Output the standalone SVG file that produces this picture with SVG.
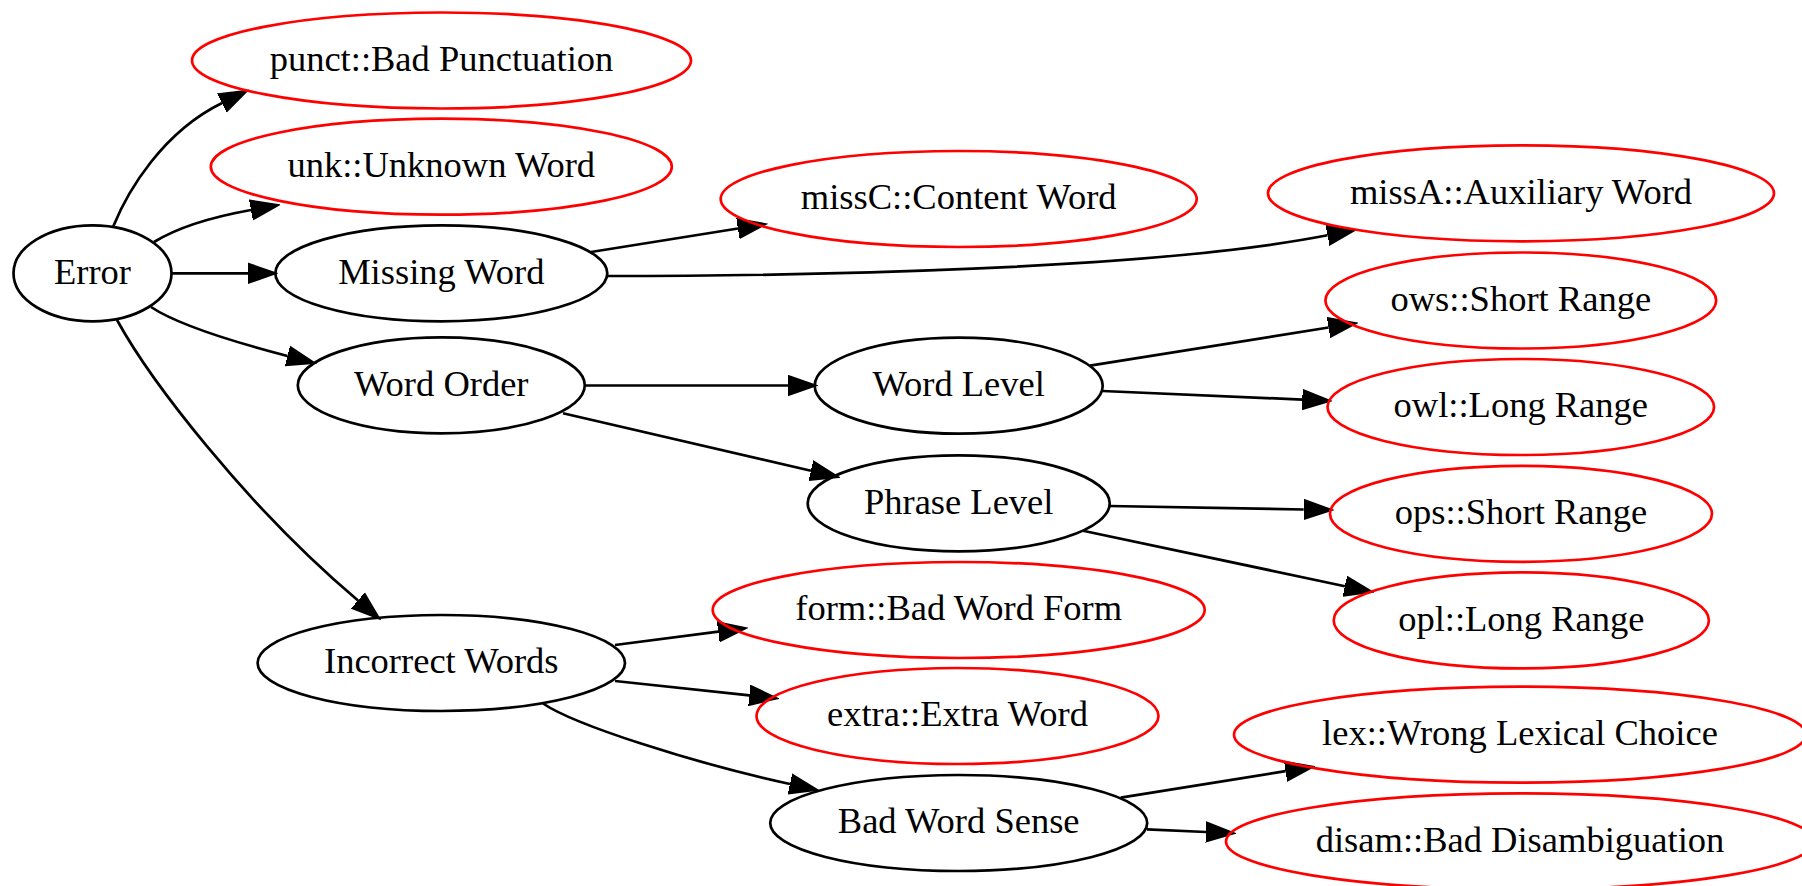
<svg xmlns="http://www.w3.org/2000/svg" width="1802" height="886" viewBox="0 0 1802 886">
<style>
.n ellipse{fill:none;stroke:#000;stroke-width:2.7}
.r ellipse{stroke:#ff0000}
.n text{font-family:"Liberation Serif","Times New Roman",serif;font-size:36.5px;text-anchor:middle;fill:#000}
#edges path{fill:none;stroke:#000;stroke-width:2.7;marker-end:url(#ah)}
</style>
<defs>
<marker id="ah" markerUnits="userSpaceOnUse" viewBox="0 -11 30 22" refX="0" refY="0" markerWidth="30" markerHeight="22" orient="auto">
<path d="M0,-9.3 L26.7,0 L0,9.3 Z" fill="#000" stroke="#000" stroke-width="2.7"/>
</marker>
</defs>
<rect width="1802" height="886" fill="#fff"/>
<g id="edges">
<path d="M113,227 C128,190 163,132 222,103"/>
<path d="M154,242 C180,226 212,217 251,210"/>
<path d="M172,273.3 L248,273.3"/>
<path d="M151,307 C175,323 230,341 287.5,356"/>
<path d="M117,320 C150,380 245,505 358,600.5"/>
<path d="M591,252 L738,228.5"/>
<path d="M607,276 C800,276 1150,270 1327.5,235.3"/>
<path d="M585,385.5 L788,385.5"/>
<path d="M563,413.3 L811,470.7"/>
<path d="M1090,365.7 L1328.6,327.5"/>
<path d="M1102.7,391 L1302.3,399.6"/>
<path d="M1109.7,506 L1303.7,509.5"/>
<path d="M1083,530.7 L1344.9,586.2"/>
<path d="M615,645 L718.3,631.7"/>
<path d="M615,681 L749.4,695.4"/>
<path d="M543,703.5 C575,725 690,762 790,784"/>
<path d="M1120.7,797.7 L1285.6,771.2"/>
<path d="M1147,829.3 L1206,832"/>
</g>
<g id="error" class="n"><ellipse cx="92.5" cy="273.3" rx="79" ry="48"/><text x="92.5" y="283.6">Error</text></g>
<g id="punct" class="n r"><ellipse cx="441.5" cy="60.5" rx="249.5" ry="48"/><text x="441.5" y="70.8">punct::Bad Punctuation</text></g>
<g id="unk" class="n r"><ellipse cx="441.3" cy="166.7" rx="230.5" ry="48"/><text x="441.3" y="177">unk::Unknown Word</text></g>
<g id="missing" class="n"><ellipse cx="441.3" cy="273.3" rx="166" ry="48"/><text x="441.3" y="283.6">Missing Word</text></g>
<g id="wordorder" class="n"><ellipse cx="441.3" cy="385.3" rx="143.5" ry="48"/><text x="441.3" y="395.6">Word Order</text></g>
<g id="incorrect" class="n"><ellipse cx="441.3" cy="663" rx="183.7" ry="48"/><text x="441.3" y="673.3">Incorrect Words</text></g>
<g id="missC" class="n r"><ellipse cx="958.7" cy="199" rx="238" ry="48"/><text x="958.7" y="209.3">missC::Content Word</text></g>
<g id="missA" class="n r"><ellipse cx="1521" cy="193.3" rx="253" ry="48"/><text x="1521" y="203.6">missA::Auxiliary Word</text></g>
<g id="wordlevel" class="n"><ellipse cx="958.7" cy="385.7" rx="144" ry="48"/><text x="958.7" y="396">Word Level</text></g>
<g id="phraselevel" class="n"><ellipse cx="958.7" cy="503.3" rx="151" ry="48"/><text x="958.7" y="513.6">Phrase Level</text></g>
<g id="form" class="n r"><ellipse cx="958.7" cy="610" rx="246" ry="48"/><text x="958.7" y="620.3">form::Bad Word Form</text></g>
<g id="extra" class="n r"><ellipse cx="957.5" cy="716" rx="201" ry="48"/><text x="957.5" y="726.3">extra::Extra Word</text></g>
<g id="badsense" class="n"><ellipse cx="958.7" cy="823" rx="188.5" ry="48"/><text x="958.7" y="833.3">Bad Word Sense</text></g>
<g id="ows" class="n r"><ellipse cx="1520.8" cy="300.5" rx="195.4" ry="48"/><text x="1520.8" y="310.8">ows::Short Range</text></g>
<g id="owl" class="n r"><ellipse cx="1520.8" cy="407" rx="193.3" ry="48"/><text x="1520.8" y="417.3">owl::Long Range</text></g>
<g id="ops" class="n r"><ellipse cx="1521" cy="513.8" rx="191" ry="48"/><text x="1521" y="524.1">ops::Short Range</text></g>
<g id="opl" class="n r"><ellipse cx="1521.3" cy="620.4" rx="187.6" ry="48"/><text x="1521.3" y="630.7">opl::Long Range</text></g>
<g id="lex" class="n r"><ellipse cx="1520" cy="734.7" rx="286" ry="48"/><text x="1520" y="745">lex::Wrong Lexical Choice</text></g>
<g id="disam" class="n r"><ellipse cx="1520" cy="841.4" rx="294" ry="48"/><text x="1520" y="851.7">disam::Bad Disambiguation</text></g>
</svg>
